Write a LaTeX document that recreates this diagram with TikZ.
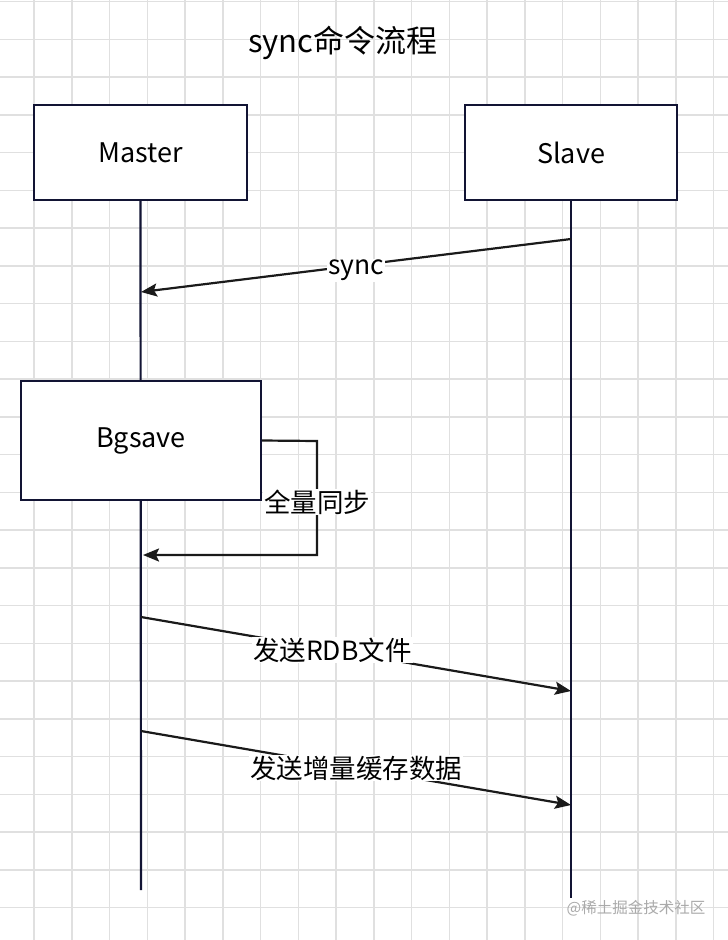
\documentclass[tikz,border=0pt]{standalone}
\usepackage{fontspec}
\setmainfont{Noto Sans CJK SC}
\usetikzlibrary{arrows.meta}
\definecolor{gridc}{RGB}{224,224,224}
\definecolor{navy}{RGB}{18,20,52}
\definecolor{linec}{RGB}{26,26,26}
\definecolor{wm}{RGB}{170,170,170}
\tikzset{
  actor/.style={draw=navy,line width=2.2pt,fill=white,inner sep=0pt,font=\fontsize{27}{32}\selectfont},
  life/.style={draw=navy,line width=2.2pt},
  msg/.style={draw=linec,line width=2.2pt,-{Stealth[length=16pt,width=13pt,inset=3pt]}},
  lbl/.style={fill=white,inner sep=1pt,font=\fontsize{26.5}{31}\selectfont}
}
\begin{document}
\begin{tikzpicture}[x=1pt,y=-1pt]
\useasboundingbox (0,0) rectangle (728,940);
\fill[white] (0,0) rectangle (728,940);
% grid
\foreach \k in {-1,...,19} {\draw[gridc,line width=1.5pt] ({34+37.75*\k},0) -- ({34+37.75*\k},940);}
\foreach \k in {0,...,24} {\draw[gridc,line width=1.5pt] (0,{1.5+37.75*\k}) -- (728,{1.5+37.75*\k});}
% title
\node[font=\fontsize{31}{36}\selectfont] (title) at (343,43) {sync命令流程};
% actors
\node[actor,minimum width=213pt,minimum height=95pt] (master) at (140.5,152.5) {Master};
\node[actor,minimum width=212pt,minimum height=95pt] (slave) at (571,152.5) {Slave};
\coordinate (mend) at (141,890);
\coordinate (send) at (571,898);
\draw[life] (master.south) -- (mend);
\draw[life] (slave.south) -- (send);
% Bgsave
\node[actor,minimum width=240pt,minimum height=119pt] (bg) at (141,440.5) {\raisebox{-3pt}{Bgsave}};
% sync
\coordinate (s1) at (571,239);
\coordinate (m1) at (141,292);
\draw[msg] (s1) -- node[lbl,pos=0.5,yshift=-5pt] (lsync) {sync} (m1);
% loop
\coordinate (l1) at (317,441);
\coordinate (l2) at (317,555);
\coordinate (m2) at (143,555);
\draw[msg] (bg.east) -- (l1) -- (l2) -- (m2);
\node[lbl] (lfull) at (317,502) {全量同步};
% RDB
\coordinate (m3) at (141,617);
\coordinate (s3) at (571,691);
\draw[msg] (m3) -- node[lbl,pos=0.445] (lrdb) {发送RDB文件} (s3);
% incremental
\coordinate (m4) at (141,731);
\coordinate (s4) at (571,805);
\draw[msg] (m4) -- node[lbl,pos=0.5] (linc) {发送增量缓存数据} (s4);
% watermark
\node[text=wm,font=\fontsize{15.5}{18}\selectfont] (wmark) at (636,908) {@稀土掘金技术社区};
\end{tikzpicture}
\end{document}
